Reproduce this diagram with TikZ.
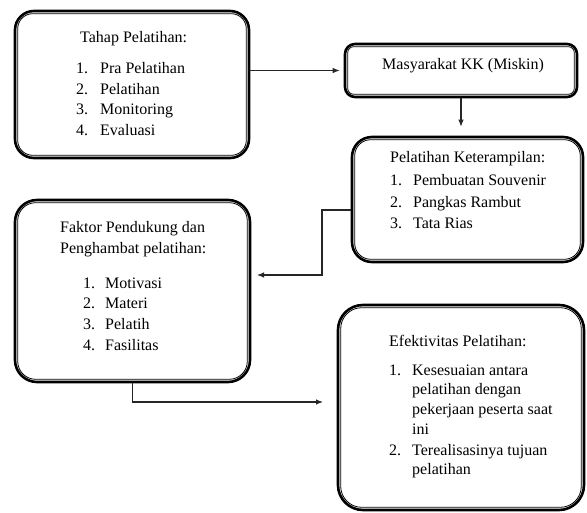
\documentclass[tikz,border=0pt]{standalone}
\usepackage{fontspec}
\setmainfont{Liberation Serif}
\usetikzlibrary{arrows.meta}
\newcommand{\itm}[2]{\makebox[#1][l]{#2}}
\newcommand{\innerline}[2]{\draw[innerl, rounded corners=#2] ([shift={(4pt,4pt)}]#1.south west) rectangle ([shift={(-4pt,-4pt)}]#1.north east);}
\tikzset{
  box/.style={draw=black, line width=2.6pt, fill=white, inner sep=0pt},
  innerl/.style={draw=black, line width=0.8pt},
  txt/.style={anchor=base west, inner sep=0pt, font=\fontsize{16}{20}\selectfont, text=black},
  conn/.style={draw=black!85, line width=1.1pt},
  arr/.style={conn, -{Latex[length=7pt,width=5.5pt]}},
}
\begin{document}
\begin{tikzpicture}[x=1pt,y=-1pt]
\useasboundingbox[fill=white] (0,0) rectangle (587,513);
% boxes
\node[box, minimum width=234pt, minimum height=147pt, rounded corners=19pt] (b1) at (132,84.5) {};
\innerline{b1}{15pt}
\node[box, minimum width=232pt, minimum height=53pt, rounded corners=10pt] (b2) at (461,70.5) {};
\innerline{b2}{6pt}
\node[box, minimum width=231pt, minimum height=125pt, rounded corners=20pt] (b3) at (467.5,199.5) {};
\innerline{b3}{16pt}
\node[box, minimum width=235pt, minimum height=182pt, rounded corners=22pt] (b4) at (132.5,291) {};
\innerline{b4}{18pt}
\node[box, minimum width=246pt, minimum height=205pt, rounded corners=25pt] (b5) at (461,407.5) {};
\innerline{b5}{21pt}
% box 1 text
\node[txt] (t1h) at (80,43) {Tahap Pelatihan:};
\node[txt] (t1a) at (76,74) {\itm{24pt}{1.}Pra Pelatihan};
\node[txt] (t1b) at (76,95) {\itm{24pt}{2.}Pelatihan};
\node[txt] (t1c) at (76,115) {\itm{24pt}{3.}Monitoring};
\node[txt] (t1d) at (76,136) {\itm{24pt}{4.}Evaluasi};
% box 2 text
\node[txt] (t2) at (382,70) {Masyarakat KK (Miskin)};
% box 3 text
\node[txt] (t3h) at (390,163) {Pelatihan Keterampilan:};
\node[txt] (t3a) at (390,186) {\itm{23pt}{1.}Pembuatan Souvenir};
\node[txt] (t3b) at (390,208) {\itm{23pt}{2.}Pangkas Rambut};
\node[txt] (t3c) at (390,229) {\itm{23pt}{3.}Tata Rias};
% box 4 text
\node[txt] (t4h) at (60,233) {Faktor Pendukung dan};
\node[txt] (t4i) at (60,254) {Penghambat pelatihan:};
\node[txt] (t4a) at (83,289) {\itm{22pt}{1.}Motivasi};
\node[txt] (t4b) at (83,309) {\itm{22pt}{2.}Materi};
\node[txt] (t4c) at (83,330) {\itm{22pt}{3.}Pelatih};
\node[txt] (t4d) at (83,351) {\itm{22pt}{4.}Fasilitas};
% box 5 text
\node[txt] (t5h) at (389,347) {Efektivitas Pelatihan:};
\node[txt] (t5a) at (389,375) {\itm{23pt}{1.}Kesesuaian antara};
\node[txt] (t5b) at (412,395) {pelatihan dengan};
\node[txt] (t5c) at (412,414) {pekerjaan peserta saat};
\node[txt] (t5d) at (412,434) {ini};
\node[txt] (t5e) at (389,455) {\itm{23pt}{2.}Terealisasinya tujuan};
\node[txt] (t5f) at (412,474) {pelatihan};
% connectors
\draw[arr, shorten >=4pt] (b2.west -| b1.east) -- (b2.west);
\draw[arr, shorten >=9pt] (b2.south) -- (b2.south |- b3.north);
\coordinate (c3a) at (322,210);
\coordinate (c3b) at (322,275);
\coordinate (c3c) at (257,275);
\draw[arr] (b3.west |- c3a) -- (c3a) -- (c3b) -- (c3c);
\coordinate (c4a) at (132.5,402);
\coordinate (c4b) at (323,402);
\draw[arr] (b4.south) -- (c4a) -- (c4b);
\end{tikzpicture}
\end{document}
